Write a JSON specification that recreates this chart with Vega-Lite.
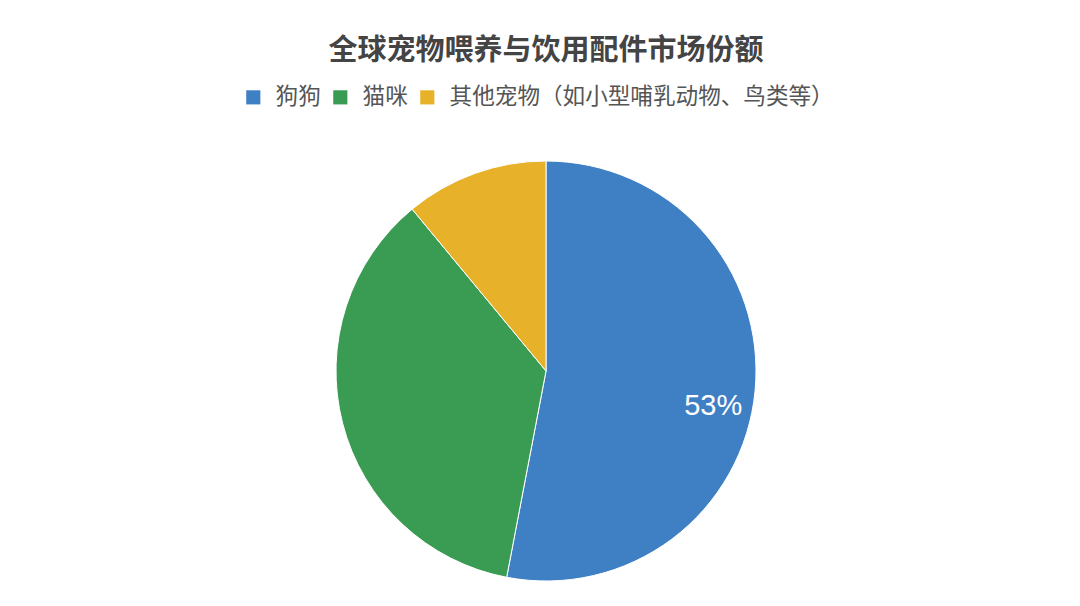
{
  "$schema": "https://vega.github.io/schema/vega-lite/v6.json",
  "autosize": "none",
  "width": 1068,
  "height": 470,
  "padding": {"left": 12, "top": 136, "right": 0, "bottom": 0},
  "background": "white",
  "title": {
    "text": "全球宠物喂养与饮用配件市场份额",
    "font": "Noto Sans CJK SC",
    "fontSize": 29,
    "fontWeight": "bold",
    "color": "#444444",
    "anchor": "middle",
    "offset": 20
  },
  "data": {
    "values": [
      {"category": "狗狗", "share": 0.53},
      {"category": "猫咪", "share": 0.36},
      {"category": "其他宠物（如小型哺乳动物、鸟类等）", "share": 0.11}
    ]
  },
  "config": {
    "view": {"stroke": null},
    "legend": {
      "labelFont": "Noto Sans CJK SC",
      "labelFontSize": 22.6,
      "labelColor": "#555555",
      "symbolType": "square",
      "symbolSize": 200,
      "symbolStrokeWidth": 0,
      "labelOffset": 11,
      "labelLimit": 700,
      "columnPadding": 8
    }
  },
  "encoding": {
    "theta": {"field": "share", "type": "quantitative", "stack": true},
    "order": {"field": "share", "type": "quantitative", "sort": "descending"},
    "color": {
      "field": "category",
      "type": "nominal",
      "title": null,
      "sort": null,
      "scale": {
        "domain": ["狗狗", "猫咪", "其他宠物（如小型哺乳动物、鸟类等）"],
        "range": ["#3F80C5", "#3A9B53", "#E8B12A"]
      },
      "legend": {
        "orient": "none",
        "direction": "horizontal",
        "legendX": 230,
        "legendY": -50
      }
    }
  },
  "layer": [
    {
      "mark": {"type": "arc", "outerRadius": 210, "stroke": "white", "strokeWidth": 1}
    },
    {
      "mark": {"type": "text", "radius": 172, "fontSize": 29, "font": "Liberation Sans", "dx": -4, "dy": 19},
      "encoding": {
        "color": {"value": "white"},
        "text": {
          "condition": {"test": "datum.category == '狗狗'", "field": "share", "format": ".0%"},
          "value": ""
        }
      }
    }
  ]
}
